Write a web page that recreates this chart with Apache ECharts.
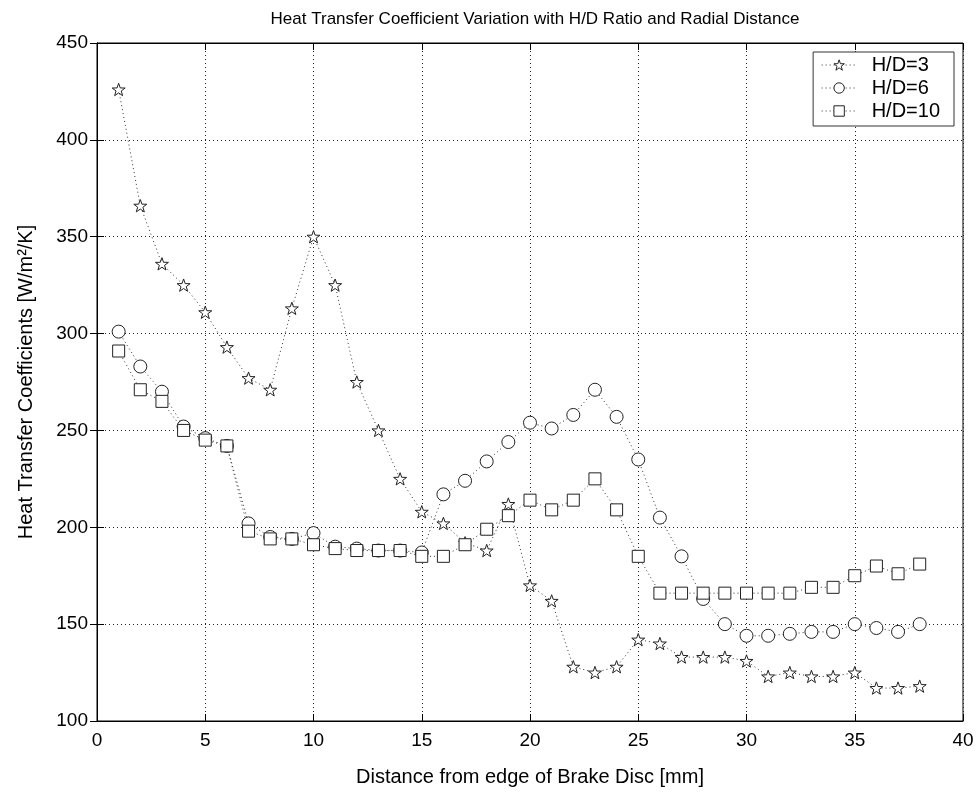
<!DOCTYPE html>
<html>
<head>
<meta charset="utf-8">
<script src="https://cdn.jsdelivr.net/npm/echarts@6/dist/echarts.min.js"></script>
<style>html,body{margin:0;padding:0;background:#fff;}#c{width:978px;height:792px;}</style>
</head>
<body>
<div id="c"></div>
<script>
var distance = [1,2,3,4,5,6,7,8,9,10,11,12,13,14,15,16,17,18,19,20,21,22,23,24,25,26,27,28,29,30,31,32,33,34,35,36,37,38];
var hd3 = [426,366,336,325,311,293,277,271,313,350,325,275,250,225,208,202,192,188,212,170,162,128,125,128,142,140,133,133,133,131,123,125,123,123,125,117,117,118];
var hd6 = [301,283,270,252,246,242,202,195,194,197,190,189,188,188,187,217,224,234,244,254,251,258,271,257,235,205,185,163,150,144,144,145,146,146,150,148,146,150];
var hd10 = [291,271,265,250,245,242,198,194,194,191,189,188,188,188,185,185,191,199,206,214,209,214,225,209,185,166,166,166,166,166,166,166,169,169,175,180,176,181];
var seriesNames = ['H/D=3','H/D=6','H/D=10'];
var xTicks = [0,5,10,15,20,25,30,35,40];
var yTicks = [100,150,200,250,300,350,400,450];

function pairs(ys){ return distance.map(function(x,i){ return [x, ys[i]]; }); }

var starPath = 'path://M10,0L12.35,6.76L19.51,6.91L13.8,11.24L15.88,18.09L10,14L4.12,18.09L6.2,11.24L0.49,6.91L7.65,6.76Z';
var FONT = 'Liberation Sans, Arial, sans-serif';

function mkSeries(name, ys, symbol, size){
  return {
    name: name, type: 'line', data: pairs(ys),
    symbol: symbol, symbolSize: size, symbolKeepAspect: true,
    showAllSymbol: true,
    lineStyle: {color: '#333', width: 1, type: [1, 3]},
    itemStyle: {color: '#fff', borderColor: '#222', borderWidth: 1},
    emphasis: {disabled: true},
    animation: false
  };
}

var chart = echarts.init(document.getElementById('c'), null, {renderer: 'canvas'});
chart.setOption({
  backgroundColor: '#fff',
  animation: false,
  title: {
    text: 'Heat Transfer Coefficient Variation with H/D Ratio and Radial Distance',
    left: 530, top: 6, textAlign: 'center',
    textStyle: {fontFamily: FONT, fontSize: 17, fontWeight: 'normal', color: '#000'}
  },
  legend: {
    data: seriesNames,
    orient: 'vertical', right: 24, top: 52,
    backgroundColor: '#fff', borderColor: '#333', borderWidth: 1,
    padding: [3, 14, 5, 8], itemGap: 3, itemWidth: 35, itemHeight: 13,
    itemStyle: {color: '#fff', borderColor: '#222', borderWidth: 1},
    lineStyle: {color: '#333', width: 1, type: [1, 3]},
    textStyle: {fontFamily: FONT, fontSize: 20, color: '#000', padding: [0, 0, 0, 10]}
  },
  grid: {left: 97, right: 15, top: 43, bottom: 71, show: true, borderColor: '#000', borderWidth: 1},
  xAxis: [{
    type: 'value', min: 0, max: 40, interval: 5,
    name: 'Distance from edge of Brake Disc [mm]', nameLocation: 'middle', nameGap: 46,
    nameTextStyle: {fontFamily: FONT, fontSize: 20, color: '#000'},
    axisLine: {show: true, lineStyle: {color: '#000'}},
    axisTick: {show: true, inside: true, length: 7, lineStyle: {color: '#000'}},
    axisLabel: {fontFamily: FONT, fontSize: 19, color: '#000', margin: 10,
      formatter: function(v){ return xTicks.indexOf(v) >= 0 ? String(v) : ''; }},
    splitLine: {show: true, lineStyle: {color: '#222', type: [1, 3], width: 1}}
  }, {
    type: 'value', min: 0, max: 40, interval: 5, position: 'top',
    axisLine: {show: true, lineStyle: {color: '#000'}},
    axisTick: {show: true, inside: true, length: 7, lineStyle: {color: '#000'}},
    axisLabel: {show: false}, splitLine: {show: false}
  }],
  yAxis: [{
    type: 'value', min: 100, max: 450, interval: 50,
    name: 'Heat Transfer Coefficients [W/m\u00B2/K]', nameLocation: 'middle', nameGap: 61,
    nameTextStyle: {fontFamily: FONT, fontSize: 20, color: '#000'},
    axisLine: {show: true, lineStyle: {color: '#000'}},
    axisTick: {show: true, inside: true, length: 7, lineStyle: {color: '#000'}},
    axisLabel: {fontFamily: FONT, fontSize: 19, color: '#000', margin: 9,
      formatter: function(v){ return yTicks.indexOf(v) >= 0 ? String(v) : ''; }},
    splitLine: {show: true, lineStyle: {color: '#222', type: [1, 3], width: 1}}
  }, {
    type: 'value', min: 100, max: 450, interval: 50, position: 'right',
    axisLine: {show: true, lineStyle: {color: '#000'}},
    axisTick: {show: true, inside: true, length: 7, lineStyle: {color: '#000'}},
    axisLabel: {show: false}, splitLine: {show: false}
  }],
  series: [
    mkSeries(seriesNames[0], hd3, starPath, 13),
    mkSeries(seriesNames[1], hd6, 'circle', 13),
    mkSeries(seriesNames[2], hd10, 'rect', 12)
  ]
});
</script>
</body>
</html>
